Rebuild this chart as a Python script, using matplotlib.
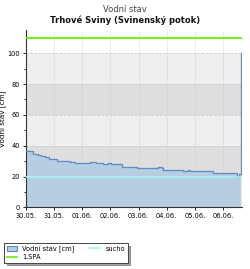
import matplotlib
matplotlib.use("Agg")
import matplotlib.pyplot as plt
from matplotlib.patches import Patch
from matplotlib.lines import Line2D

plt.rcParams['font.family'] = ['DejaVu Sans']

tick_labels = ["30.05.", "31.05.", "01.06.", "02.06.", "03.06.", "04.06.", "05.06.", "06.06."]
days = [0.0, 0.27, 0.45, 0.53, 0.68, 0.84, 1.12, 1.45, 1.57, 1.75, 2.28, 2.48, 2.74, 2.92,
        3.02, 3.40, 3.94, 4.69, 4.83, 4.87, 5.58, 5.76, 5.83, 5.93, 6.65, 7.49, 7.58, 7.635]
level = [36.3, 34.8, 34.1, 33.5, 32.6, 31.5, 30.4, 30.0, 29.4, 28.7, 29.4, 28.7, 28.0, 28.5,
         28.0, 26.5, 25.5, 26.3, 25.5, 24.4, 23.9, 24.4, 23.9, 23.5, 22.2, 20.0, 21.5, 100.0]
sucho = 19.5
spa1 = 110
x_end = 7.67

fig = plt.figure(figsize=(2.5, 2.69), dpi=100)
ax = fig.add_axes([0.103, 0.229, 0.865, 0.659])

# alternating bands
for lo, hi, c in [(0, 20, '#efefef'), (20, 40, '#dedede'), (40, 60, '#efefef'),
                  (60, 80, '#dedede'), (80, 100, '#efefef')]:
    ax.axhspan(lo, hi, color=c, zorder=0, lw=0)

xs = days + [days[-1] + 0.012]
ys = level + [level[-1]]
ax.fill_between(xs, ys, 0, step='post', color='#b7cde2', lw=0, zorder=2)
ax.step(xs, ys, where='post', color='#5a8cc0', lw=0.9, zorder=3)
ax.axhline(sucho, color='#a8f0f4', lw=1.2, zorder=4)
ax.axhline(spa1, color='#66ee00', lw=1.3, zorder=4)

ax.set_xlim(0, x_end)
ax.set_ylim(0, 115)
ax.set_xticks(range(len(tick_labels)))
ax.set_xticklabels(tick_labels, fontsize=4.8)
ax.set_yticks([0, 20, 40, 60, 80, 100])
ax.set_yticks([10, 30, 50, 70, 90], minor=True)
ax.tick_params(axis='y', labelsize=4.8, length=2.5, width=0.6, pad=1.5)
ax.tick_params(axis='y', which='minor', length=1.8, width=0.6)
ax.tick_params(axis='x', length=2.5, width=0.6, pad=1.5)
ax.grid(axis='x', color='#c8c8c8', ls=(0, (1.5, 1.5)), lw=0.5, zorder=1)
for yv in [20, 40, 60, 80, 100]:
    ax.axhline(yv, color='#c8c8c8', ls=(0, (3, 2)), lw=0.6, zorder=1)
for s in ['top', 'right']:
    ax.spines[s].set_visible(False)
for s in ['left', 'bottom']:
    ax.spines[s].set_linewidth(0.8)
    ax.spines[s].set_color('#333333')
ax.set_ylabel("Vodní stav [cm]", fontsize=5.2)
ax.yaxis.set_label_coords(-0.085, 0.5)

fig.text(0.5, 0.965, "Vodní stav", ha='center', va='center', fontsize=6, color='#444444')
fig.text(0.5, 0.925, "Trhové Sviny (Svinenský potok)", ha='center', va='center',
         fontsize=6, fontweight='bold', color='#111111')

handles = [Patch(facecolor='#b7cde2', edgecolor='#5a8cc0', lw=0.8),
           Line2D([], [], color='#66ee00', lw=1.2),
           Line2D([], [], color='#a8f0f4', lw=1.2)]
labels = ["Vodní stav [cm]", "1.SPA", "sucho"]
leg = fig.legend(handles, labels, loc='upper left', bbox_to_anchor=(0.002, 0.11), ncol=2,
                 fontsize=4.8, frameon=True, fancybox=False, shadow=True,
                 handlelength=1.6, handleheight=0.8, columnspacing=2.2, borderpad=0.4,
                 labelspacing=0.2, handletextpad=0.8)
leg.get_frame().set_edgecolor('#444444')
leg.get_frame().set_linewidth(0.7)

fig.savefig("out.png", dpi=100)
